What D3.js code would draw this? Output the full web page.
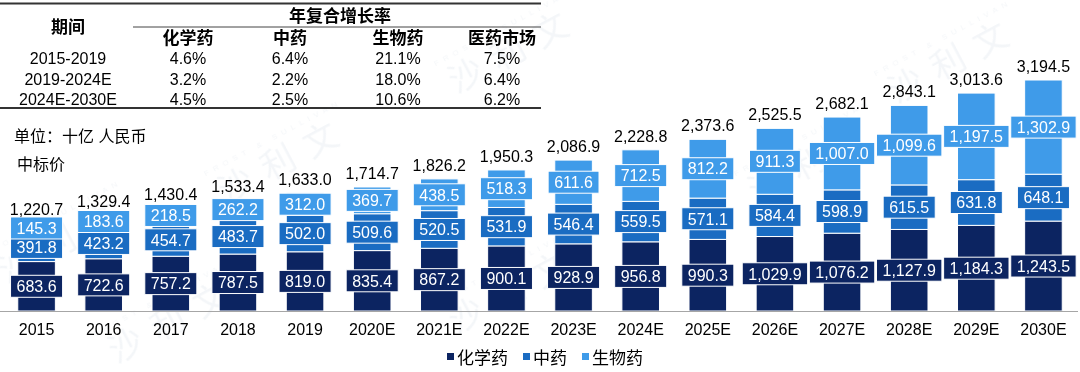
<!DOCTYPE html>
<html>
<head>
<meta charset="utf-8">
<script src="https://cdn.jsdelivr.net/npm/d3@7"></script>
<style>
  body { margin: 0; background: #fff; }
  svg { display: block; font-family: "Liberation Sans", Arial, "Noto Sans CJK SC", sans-serif; }
</style>
</head>
<body>
<svg id="chart" width="1080" height="372"></svg>
<script>
// DATA
var years = ["2015", "2016", "2017", "2018", "2019", "2020E", "2021E", "2022E", "2023E",
  "2024E", "2025E", "2026E", "2027E", "2028E", "2029E", "2030E"];
var chemical = [683.6, 722.6, 757.2, 787.5, 819.0, 835.4, 867.2, 900.1, 928.9,
  956.8, 990.3, 1029.9, 1076.2, 1127.9, 1184.3, 1243.5];
var tcm = [391.8, 423.2, 454.7, 483.7, 502.0, 509.6, 520.5, 531.9, 546.4,
  559.5, 571.1, 584.4, 598.9, 615.5, 631.8, 648.1];
var biologic = [145.3, 183.6, 218.5, 262.2, 312.0, 369.7, 438.5, 518.3, 611.6,
  712.5, 812.2, 911.3, 1007.0, 1099.6, 1197.5, 1302.9];
var totals = [1220.7, 1329.4, 1430.4, 1533.4, 1633.0, 1714.7, 1826.2, 1950.3, 2086.9,
  2228.8, 2373.6, 2525.5, 2682.1, 2843.1, 3013.6, 3194.5];

var seriesNames = ["化学药", "中药", "生物药"];
var seriesColors = ["#0c2461", "#1a6cc2", "#3f9be9"];

var cagrPeriods = ["2015-2019", "2019-2024E", "2024E-2030E"];
var cagrCols = ["化学药", "中药", "生物药", "医药市场"];
var cagrValues = [
  ["4.6%", "6.4%", "21.1%", "7.5%"],
  ["3.2%", "2.2%", "18.0%", "6.4%"],
  ["4.5%", "2.5%", "10.6%", "6.2%"]
];

// SETUP
var svg = d3.select("#chart");
var fmt = d3.format(",.1f");

var rows = years.map(function (yr, i) {
  return { year: yr, "化学药": chemical[i], "中药": tcm[i], "生物药": biologic[i], total: totals[i] };
});
var stack = d3.stack().keys(seriesNames)(rows);

var x = d3.scaleBand().domain(years).range([3, 1077]).paddingInner(0.44).paddingOuter(0.22);
var y = d3.scaleLinear().domain([0, 3194.5]).range([311, 80]);

// WATERMARK
var wm = svg.append("g").attr("fill", "#9fb3c8").attr("opacity", 0.12);
[[70, 250], [290, 170], [520, 60], [520, 300], [820, 170], [960, 70], [180, 330]].forEach(function (p) {
  var gg = wm.append("g").attr("transform", "translate(" + p[0] + "," + p[1] + ") rotate(-28)");
  gg.append("text").attr("text-anchor", "middle").attr("font-size", 34)
    .attr("font-family", "Noto Sans CJK SC").attr("letter-spacing", 14).text("沙利文");
  gg.append("text").attr("text-anchor", "middle").attr("y", -34).attr("font-size", 8)
    .attr("letter-spacing", 5).text("FROST & SULLIVAN");
});

// TABLE
var tbl = svg.append("g").attr("font-size", 16).attr("fill", "#000");
tbl.append("line").attr("x1", 0).attr("x2", 541).attr("y1", 3.5).attr("y2", 3.5)
  .attr("stroke", "#333").attr("stroke-width", 2);
tbl.append("line").attr("x1", 133).attr("x2", 541).attr("y1", 27).attr("y2", 27)
  .attr("stroke", "#444").attr("stroke-width", 1);
tbl.append("line").attr("x1", 0).attr("x2", 541).attr("y1", 108).attr("y2", 108)
  .attr("stroke", "#333").attr("stroke-width", 2);

var colX = [188, 290, 398, 502];
tbl.append("text").attr("x", 68).attr("y", 33).attr("text-anchor", "middle")
  .attr("font-weight", "bold").attr("font-size", 17).text("期间");
tbl.append("text").attr("x", 340).attr("y", 22).attr("text-anchor", "middle")
  .attr("font-weight", "bold").attr("font-size", 17).text("年复合增长率");
tbl.selectAll(".colhead").data(cagrCols).enter().append("text")
  .attr("class", "colhead")
  .attr("x", function (d, i) { return colX[i]; })
  .attr("y", 44).attr("text-anchor", "middle")
  .attr("font-weight", "bold").attr("font-size", 17)
  .text(function (d) { return d; });
cagrPeriods.forEach(function (p, r) {
  var ry = 64 + r * 20.5;
  tbl.append("text").attr("x", 68).attr("y", ry).attr("text-anchor", "middle").text(p);
  cagrValues[r].forEach(function (v, c) {
    tbl.append("text").attr("x", colX[c]).attr("y", ry).attr("text-anchor", "middle").text(v);
  });
});

// UNIT
svg.append("text").attr("x", 14).attr("y", 142).attr("font-size", 16).text("单位：十亿 人民币");
svg.append("text").attr("x", 17).attr("y", 170).attr("font-size", 16).text("中标价");

// BARS
var layers = svg.selectAll(".layer").data(stack).enter().append("g")
  .attr("class", "layer")
  .attr("fill", function (d, i) { return seriesColors[i]; });

layers.selectAll("rect").data(function (d) { return d; }).enter().append("rect")
  .attr("x", function (d) { return x(d.data.year); })
  .attr("y", function (d) { return y(d[1]); })
  .attr("width", x.bandwidth())
  .attr("height", function (d) { return y(d[0]) - y(d[1]); })
  .attr("stroke", "#fff").attr("stroke-width", 1);

// AXIS
var axis = svg.append("g").attr("transform", "translate(0,311)")
  .call(d3.axisBottom(x).tickSize(0).tickPadding(13));
axis.select(".domain").attr("stroke", "#a6a6a6").attr("d", "M0,0.5H1078");
axis.selectAll("text").attr("font-size", 16).attr("fill", "#000")
  .attr("font-family", "\"Liberation Sans\", Arial, sans-serif");

// SEGMENT LABELS
stack.forEach(function (layer, li) {
  var lg = svg.append("g");
  layer.forEach(function (d) {
    var cx = x(d.data.year) + x.bandwidth() / 2;
    var cy = (y(d[0]) + y(d[1])) / 2;
    var t = lg.append("text").attr("x", cx).attr("y", cy).attr("dy", "0.36em")
      .attr("text-anchor", "middle").attr("font-size", 16).attr("fill", "#fff")
      .text(fmt(d[1] - d[0]));
    var w = t.node().getComputedTextLength() + 12;
    lg.insert("rect", function () { return t.node(); })
      .attr("x", cx - w / 2).attr("y", cy - 11).attr("width", w).attr("height", 22)
      .attr("fill", seriesColors[li]).attr("stroke", "#fff").attr("stroke-width", 1);
  });
});

// TOTALS
svg.selectAll(".total").data(rows).enter().append("text")
  .attr("class", "total")
  .attr("x", function (d) { return x(d.year) + x.bandwidth() / 2; })
  .attr("y", function (d) { return y(d.total) - 8; })
  .attr("text-anchor", "middle").attr("font-size", 16).attr("fill", "#000")
  .text(function (d) { return fmt(d.total); });

// LEGEND
var legend = svg.append("g").attr("transform", "translate(447,0)");
var lx = 0;
seriesNames.forEach(function (name, i) {
  var item = legend.append("g").attr("transform", "translate(" + lx + ",0)");
  item.append("rect").attr("x", 0).attr("y", 353).attr("width", 7).attr("height", 7)
    .attr("fill", seriesColors[i]);
  var t = item.append("text").attr("x", 10).attr("y", 364).attr("font-size", 17)
    .attr("font-family", "\"Noto Sans CJK SC\", sans-serif").text(name);
  lx += 10 + t.node().getComputedTextLength() + 15;
});
</script>
</body>
</html>
